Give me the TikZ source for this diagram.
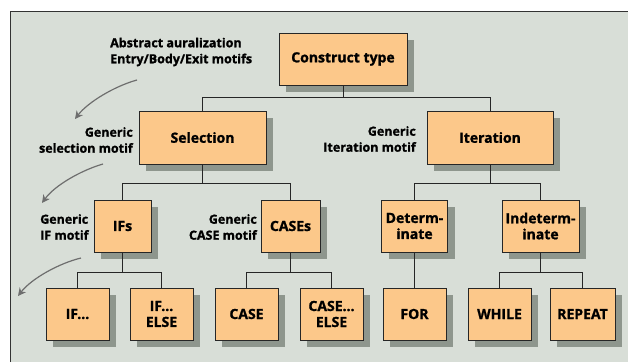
\documentclass[tikz,border=0pt]{standalone}
\usepackage{fontspec}
\setmainfont{Open Sans}[BoldFeatures={FakeBold=1.2}]
\usetikzlibrary{shadows,arrows.meta}
\definecolor{bgc}{HTML}{D8DED7}
\definecolor{boxc}{HTML}{FCC88A}
\definecolor{shc}{HTML}{8E968D}
\definecolor{arc}{HTML}{6E6E6E}
\tikzset{
  cbox/.style={draw=black!85, line width=0.9pt, fill=boxc, inner sep=1pt,
    font=\bfseries\fontsize{14}{16}\selectfont, align=center,
    drop shadow={shadow xshift=7pt, shadow yshift=-7pt, fill=shc, opacity=1}},
  sbox/.style={cbox, minimum width=63pt, minimum height=52pt},
  note/.style={font=\bfseries\fontsize{12.5}{16}\selectfont, inner sep=0pt},
  link/.style={draw=black!85, line width=0.9pt},
  motif/.style={draw=arc, line width=1.2pt, -{Stealth[length=8pt,width=8pt]}}
}
\begin{document}
\begin{tikzpicture}[x=1pt,y=-1pt]
\useasboundingbox (0,0) rectangle (628,362);
\fill[white] (0,0) rectangle (628,362);
\fill[bgc] (10,11) rectangle (628,362);
\draw[line width=1pt, black!80] (10,362) -- (10,11) -- (628,11);

\node[cbox, minimum width=128pt, minimum height=52pt] (ct) at (343,59) {Construct type};
\node[cbox, minimum width=127pt, minimum height=53pt] (sel) at (202.5,137.5) {Selection};
\node[cbox, minimum width=126pt, minimum height=53pt] (it) at (490,137.5) {Iteration};

\node[cbox, minimum width=57pt, minimum height=52pt] (ifs) at (122.5,226) {IFs};
\node[cbox, minimum width=59pt, minimum height=52pt] (cases) at (290.5,226) {CASEs};
\node[cbox, minimum width=66pt, minimum height=52pt] (det) at (414.5,226) {Determ-\\inate};
\node[cbox, minimum width=77pt, minimum height=52pt] (ind) at (540.5,226) {Indeterm-\\inate};

\node[sbox] (if) at (77.5,314) {IF...};
\node[sbox] (ifelse) at (161.5,314) {IF...\\ELSE};
\node[sbox] (case) at (246.5,314) {CASE};
\node[sbox] (caseelse) at (331.5,314) {CASE...\\ELSE};
\node[sbox] (for) at (414.5,314) {FOR};
\node[sbox] (while) at (499.5,314) {WHILE};
\node[sbox, minimum width=65pt] (repeat) at (582.5,314) {REPEAT};

\draw[link] (ct.south) -- ++(0,12) -| (sel.north);
\draw[link] (ct.south) ++(0,12) -| (it.north);
\draw[link] (sel.south) -- ++(0,19) -| (ifs.north);
\draw[link] (sel.south) ++(0,19) -| (cases.north);
\draw[link] (it.south) -- ++(0,19) -| (det.north);
\draw[link] (it.south) ++(0,19) -| (ind.north);
\draw[link] (ifs.south) -- ++(0,20) -| (if.north);
\draw[link] (ifs.south) ++(0,20) -| (ifelse.north);
\draw[link] (cases.south) -- ++(0,20) -| (case.north);
\draw[link] (cases.south) ++(0,20) -| (caseelse.north);
\draw[link] (det.south) -- (for.north);
\draw[link] (ind.south) -- ++(0,20) -| (while.north);
\draw[link] (ind.south) ++(0,20) -| (repeat.north);

\node[note, align=left, anchor=west] (n0) at (110,52) {Abstract auralization\\Entry/Body/Exit motifs};
\node[note, align=right, anchor=east] (n1) at (133,140) {Generic\\selection motif};
\node[note, align=right, anchor=east] (n2) at (416,139) {Generic\\Iteration motif};
\node[note, align=left, anchor=west] (n3) at (40,227) {Generic\\IF motif};
\node[note, align=right, anchor=east] (n4) at (257,227) {Generic\\CASE motif};

\coordinate (a1s) at (137,80); \coordinate (a1e) at (75,119);
\coordinate (a2s) at (103,164); \coordinate (a2e) at (42,203);
\coordinate (a3s) at (81,258); \coordinate (a3e) at (18,296);
\draw[motif] (a1s) .. controls (115,86) and (88,102) .. (a1e);
\draw[motif] (a2s) .. controls (82,170) and (55,185) .. (a2e);
\draw[motif] (a3s) .. controls (60,263) and (32,278) .. (a3e);
\end{tikzpicture}
\end{document}
